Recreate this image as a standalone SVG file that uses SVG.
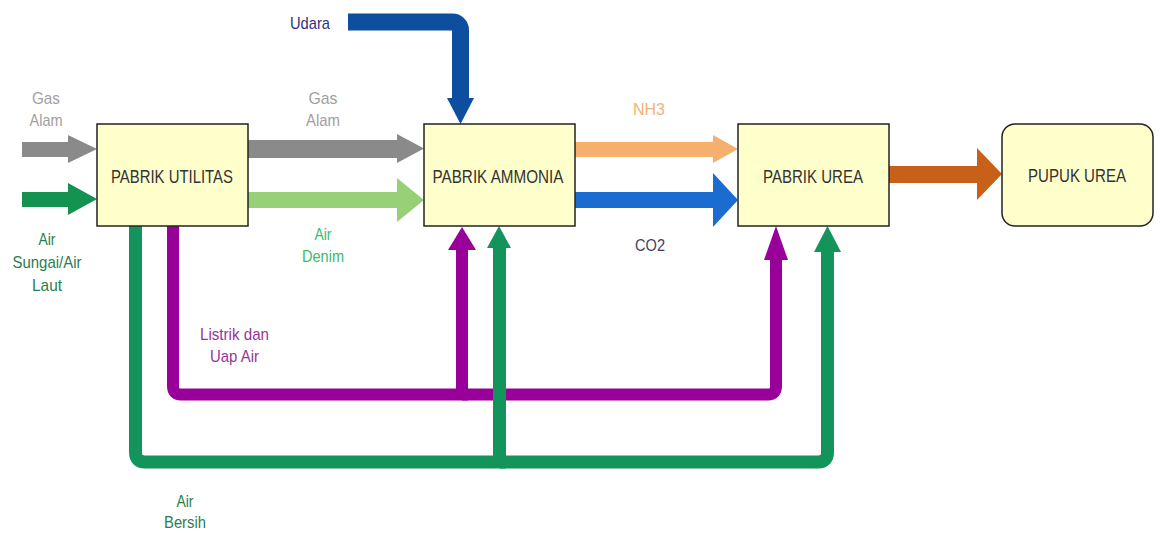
<svg xmlns="http://www.w3.org/2000/svg" width="1162" height="533" viewBox="0 0 1162 533">
<style>
text{font-family:"Liberation Sans",Arial,sans-serif;text-anchor:middle}
.box{fill:#ffffcc;stroke:#222;stroke-width:1.5}
.bt{font-size:19px;fill:#333}
.lb{font-size:17px}
.pu{fill:none;stroke:#990099;stroke-width:12}
.gr{fill:none;stroke:#13945a;stroke-width:13}
</style>
<rect width="1162" height="533" fill="#fff"/>
<g id="flows">
<polygon points="22,142 68,142 68,135 97,149 68,163 68,157 22,157" fill="#8a8a8a"/>
<polygon points="22,192 68,192 68,183 97,199 68,215 68,207 22,207" fill="#14924f"/>
<polygon points="248,140 397,140 397,134 424,148.5 397,163 397,158 248,158" fill="#8a8a8a"/>
<polygon points="248,192 397,192 397,178 424,200 397,222 397,208 248,208" fill="#97d077"/>
<polygon points="575,142 713,142 713,135 738,149 713,163 713,157 575,157" fill="#f5b06e"/>
<polygon points="575,192 713,192 713,173 738,200 713,227 713,208 575,208" fill="#1a6cd0"/>
<polygon points="889,166 977,166 977,148 1002,174 977,200 977,183 889,183" fill="#c8601a"/>
<path d="M348,22 H452 A8,8 0 0 1 460.5,30 V100" fill="none" stroke="#0d4f9e" stroke-width="17"/>
<polygon points="447,98 474,98 460.5,124" fill="#0d4f9e"/>
<path class="pu" d="M173,226 V386 Q173,394.5 181,394.5 H462 V248"/>
<polygon points="448,250 476,250 462,227" fill="#990099"/>
<path class="pu" d="M462,394.5 H768 Q776,394.5 776,386 V258"/>
<polygon points="764,260 788,260 776,226" fill="#990099"/>
<path class="gr" d="M135.5,226 V452 Q135.5,462 145,462 H499.5 V246"/>
<polygon points="487,248 511,248 499,226" fill="#13945a"/>
<path class="gr" d="M499.5,462 H818 Q827.5,462 827.5,452 V250"/>
<polygon points="814,252 841,252 827.5,226" fill="#13945a"/>
</g>
<g id="utilitas"><rect class="box" x="97" y="124" width="151" height="102"/><text class="bt" x="172" y="183" textLength="122" lengthAdjust="spacingAndGlyphs">PABRIK UTILITAS</text></g>
<g id="ammonia"><rect class="box" x="424" y="124" width="151" height="102"/><text class="bt" x="498" y="183" textLength="131" lengthAdjust="spacingAndGlyphs">PABRIK AMMONIA</text></g>
<g id="urea"><rect class="box" x="738" y="124" width="151" height="102"/><text class="bt" x="813" y="183" textLength="100" lengthAdjust="spacingAndGlyphs">PABRIK UREA</text></g>
<g id="pupuk"><rect class="box" x="1002" y="124" width="151" height="102" rx="13"/><text class="bt" x="1077" y="182" textLength="98" lengthAdjust="spacingAndGlyphs">PUPUK UREA</text></g>
<g id="labels" class="lb">
<text x="310" y="29" fill="#2f2f7f" textLength="40" lengthAdjust="spacingAndGlyphs">Udara</text>
<text x="46" y="104" fill="#a0a0a0" textLength="28" lengthAdjust="spacingAndGlyphs">Gas</text>
<text x="46" y="126" fill="#a0a0a0" textLength="33" lengthAdjust="spacingAndGlyphs">Alam</text>
<text x="323" y="104" fill="#a0a0a0" textLength="29" lengthAdjust="spacingAndGlyphs">Gas</text>
<text x="323" y="126" fill="#a0a0a0" textLength="34" lengthAdjust="spacingAndGlyphs">Alam</text>
<text x="47" y="245" fill="#2a7d4f" textLength="17" lengthAdjust="spacingAndGlyphs">Air</text>
<text x="47" y="268" fill="#2a7d4f" textLength="69" lengthAdjust="spacingAndGlyphs">Sungai/Air</text>
<text x="47" y="291" fill="#2a7d4f" textLength="30" lengthAdjust="spacingAndGlyphs">Laut</text>
<text x="323" y="240" fill="#3dba6e" textLength="17" lengthAdjust="spacingAndGlyphs">Air</text>
<text x="323" y="262" fill="#3dba6e" textLength="42" lengthAdjust="spacingAndGlyphs">Denim</text>
<text x="649" y="115" fill="#f2b377" textLength="32" lengthAdjust="spacingAndGlyphs">NH3</text>
<text x="650" y="251" fill="#3f3f5f" textLength="30" lengthAdjust="spacingAndGlyphs">CO2</text>
<text x="234.5" y="340" fill="#993399" textLength="69" lengthAdjust="spacingAndGlyphs">Listrik dan</text>
<text x="234.5" y="362" fill="#993399" textLength="49" lengthAdjust="spacingAndGlyphs">Uap Air</text>
<text x="185" y="507" fill="#2a7d4f" textLength="17" lengthAdjust="spacingAndGlyphs">Air</text>
<text x="185" y="528" fill="#2a7d4f" textLength="42" lengthAdjust="spacingAndGlyphs">Bersih</text>
</g>
</svg>
